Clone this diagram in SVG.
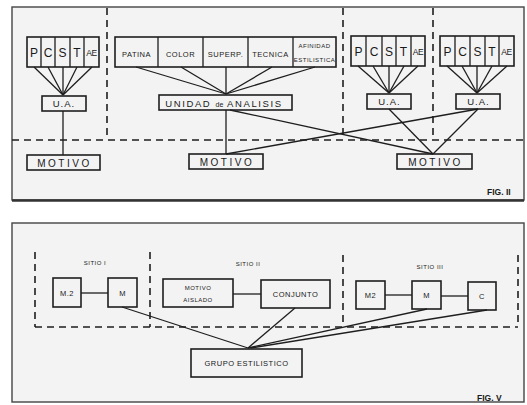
<svg xmlns="http://www.w3.org/2000/svg" width="527" height="405" viewBox="0 0 527 405">
<style>
.bx{fill:none;stroke:#1e1e1e;stroke-width:1.6}
.ln{fill:none;stroke:#1e1e1e;stroke-width:1.3}
.ds{fill:none;stroke:#1e1e1e;stroke-width:1.6;stroke-dasharray:7 5}
.fr{fill:#f3f3f3;stroke:#444;stroke-width:1.4}
text{font-family:"Liberation Sans",Arial,sans-serif;fill:#1a1a1a;text-anchor:middle}
.big{font-size:12px}
.ae{font-size:8.5px;letter-spacing:-0.5px}
.ua{font-size:9.5px;letter-spacing:1px}
.mo{font-size:10px;letter-spacing:2.5px}
.sm{font-size:7.5px;letter-spacing:0.5px}
.xs{font-size:6px;letter-spacing:0.5px}
.fig{font-size:8.5px;font-weight:bold;text-anchor:start}
</style>
<rect width="527" height="405" fill="#ffffff"/>
<rect class="fr" x="12" y="7" width="512" height="193"/>
<line x1="12" y1="200.5" x2="524" y2="200.5" stroke="#333" stroke-width="2.5"/>
<rect class="fr" x="12" y="223" width="512" height="179"/>

<g id="dashed">
<line class="ds" x1="107" y1="8" x2="107" y2="138"/>
<line class="ds" x1="343" y1="8" x2="343" y2="138"/>
<line class="ds" x1="433" y1="8" x2="433" y2="138"/>
<line class="ds" x1="12" y1="140" x2="524" y2="140"/>
<line class="ds" x1="35" y1="252" x2="35" y2="327"/>
<line class="ds" x1="150" y1="252" x2="150" y2="327"/>
<line class="ds" x1="343" y1="255" x2="343" y2="327"/>
<line class="ds" x1="518" y1="255" x2="518" y2="327"/>
<line class="ds" x1="35" y1="327" x2="518" y2="327"/>
</g>

<g id="connectors">
<line class="ln" x1="34" y1="67" x2="63" y2="95"/>
<line class="ln" x1="48" y1="67" x2="63" y2="95"/>
<line class="ln" x1="63" y1="67" x2="63" y2="95"/>
<line class="ln" x1="77" y1="67" x2="63" y2="95"/>
<line class="ln" x1="92" y1="67" x2="63" y2="95"/>
<line class="ln" x1="63" y1="111" x2="63" y2="155"/>
<line class="ln" x1="136" y1="67" x2="226" y2="94"/>
<line class="ln" x1="181" y1="67" x2="226" y2="94"/>
<line class="ln" x1="226" y1="67" x2="226" y2="94"/>
<line class="ln" x1="272" y1="67" x2="226" y2="94"/>
<line class="ln" x1="315" y1="67" x2="226" y2="94"/>
<line class="ln" x1="226" y1="110" x2="226" y2="154"/>
<line class="ln" x1="230" y1="110" x2="433" y2="154"/>
<line class="ln" x1="226" y1="154" x2="478" y2="109"/>
<line class="ln" x1="358" y1="66" x2="389" y2="93"/>
<line class="ln" x1="373" y1="66" x2="389" y2="93"/>
<line class="ln" x1="389" y1="66" x2="389" y2="93"/>
<line class="ln" x1="404" y1="66" x2="389" y2="93"/>
<line class="ln" x1="418" y1="66" x2="389" y2="93"/>
<line class="ln" x1="447" y1="66" x2="477" y2="93"/>
<line class="ln" x1="462" y1="66" x2="477" y2="93"/>
<line class="ln" x1="477" y1="66" x2="477" y2="93"/>
<line class="ln" x1="492" y1="66" x2="477" y2="93"/>
<line class="ln" x1="507" y1="66" x2="477" y2="93"/>
<line class="ln" x1="389" y1="109" x2="433" y2="154"/>
<line class="ln" x1="478" y1="109" x2="433" y2="154"/>
<line class="ln" x1="81" y1="293" x2="108" y2="293"/>
<line class="ln" x1="233" y1="294" x2="261" y2="294"/>
<line class="ln" x1="385" y1="295" x2="412" y2="295"/>
<line class="ln" x1="441" y1="296" x2="468" y2="296"/>
<line class="ln" x1="122" y1="307" x2="248" y2="348"/>
<line class="ln" x1="295" y1="308" x2="248" y2="348"/>
<line class="ln" x1="427" y1="309" x2="248" y2="348"/>
<line class="ln" x1="487" y1="310" x2="251" y2="348"/>
</g>

<g id="attrs1">
<rect class="bx" x="27" y="37" width="72" height="30"/>
<path class="ln" d="M41 37V67M55 37V67M70 37V67M84 37V67"/>
<text class="big" x="34" y="56.5">P</text><text class="big" x="48" y="56.5">C</text><text class="big" x="62.5" y="56.5">S</text><text class="big" x="77" y="56.5">T</text><text class="ae" x="91.5" y="55.5">AE</text>
</g>
<g id="ua1"><rect class="bx" x="42" y="96" width="44" height="15"/><text class="ua" x="64" y="107">U.A.</text></g>
<g id="motivo1"><rect class="bx" x="27" y="155" width="73" height="15"/><text class="mo" x="64.5" y="166.5">MOTIVO</text></g>

<g id="attrs2">
<rect class="bx" x="115" y="37" width="221" height="30"/>
<path class="ln" d="M158 37V67M203 37V67M248 37V67M293 37V67"/>
<text class="sm" x="136.5" y="56.5">PATINA</text>
<text class="sm" x="180.5" y="56.5">COLOR</text>
<text class="sm" x="225.5" y="56.5">SUPERP.</text>
<text class="sm" x="270.5" y="56.5">TECNICA</text>
<text class="xs" x="314.5" y="47.5">AFINIDAD</text>
<text class="xs" x="314.5" y="62">ESTILISTICA</text>
</g>
<g id="unidad"><rect class="bx" x="159" y="95" width="133" height="15"/><text class="ua" x="224" y="106.5" style="letter-spacing:1.6px">UNIDAD <tspan style="font-size:7px;letter-spacing:0">de</tspan> ANALISIS</text></g>
<g id="motivo2"><rect class="bx" x="189" y="154" width="74" height="15"/><text class="mo" x="227" y="165.5">MOTIVO</text></g>

<g id="attrs3">
<rect class="bx" x="351" y="36" width="74" height="30"/>
<path class="ln" d="M366 36V66M382 36V66M396 36V66M411 36V66"/>
<text class="big" x="358.5" y="55.5">P</text><text class="big" x="374" y="55.5">C</text><text class="big" x="389" y="55.5">S</text><text class="big" x="403.5" y="55.5">T</text><text class="ae" x="418" y="54.5">AE</text>
</g>
<g id="ua3"><rect class="bx" x="367" y="94" width="44" height="15"/><text class="ua" x="389.5" y="105">U.A.</text></g>
<g id="attrs4">
<rect class="bx" x="440" y="36" width="74" height="30"/>
<path class="ln" d="M455 36V66M470 36V66M485 36V66M499 36V66"/>
<text class="big" x="447.5" y="55.5">P</text><text class="big" x="462.5" y="55.5">C</text><text class="big" x="477.5" y="55.5">S</text><text class="big" x="492" y="55.5">T</text><text class="ae" x="506.5" y="54.5">AE</text>
</g>
<g id="ua4"><rect class="bx" x="456" y="94" width="44" height="15"/><text class="ua" x="478.5" y="105">U.A.</text></g>
<g id="motivo3"><rect class="bx" x="397" y="154" width="75" height="15"/><text class="mo" x="435.5" y="165.5">MOTIVO</text></g>
<text class="fig" x="487" y="195">FIG. II</text>

<g id="sitio1"><text class="xs" x="95" y="265">SITIO I</text></g>
<g id="m2a"><rect class="bx" x="53" y="278" width="28" height="29"/><text class="sm" x="67" y="295.5">M.2</text></g>
<g id="m1"><rect class="bx" x="108" y="278" width="29" height="29"/><text class="sm" x="122.5" y="295.5">M</text></g>
<g id="sitio2"><text class="xs" x="248" y="266">SITIO II</text></g>
<g id="aislado"><rect class="bx" x="163" y="279" width="70" height="28"/><text class="xs" x="198" y="289.5">MOTIVO</text><text class="xs" x="198" y="301.5">AISLADO</text></g>
<g id="conjunto"><rect class="bx" x="261" y="280" width="69" height="28"/><text class="sm" x="295.5" y="296.5">CONJUNTO</text></g>
<g id="sitio3"><text class="xs" x="430" y="269">SITIO III</text></g>
<g id="m2b"><rect class="bx" x="356" y="281" width="29" height="28"/><text class="sm" x="370.5" y="298">M2</text></g>
<g id="m3"><rect class="bx" x="412" y="281" width="29" height="28"/><text class="sm" x="426.5" y="298">M</text></g>
<g id="c3"><rect class="bx" x="468" y="282" width="28" height="28"/><text class="sm" x="482" y="299">C</text></g>
<g id="grupo"><rect class="bx" x="191" y="349" width="111" height="28"/><text class="sm" x="246.5" y="366">GRUPO ESTILISTICO</text></g>
<text class="fig" x="477" y="401">FIG. V</text>
</svg>
